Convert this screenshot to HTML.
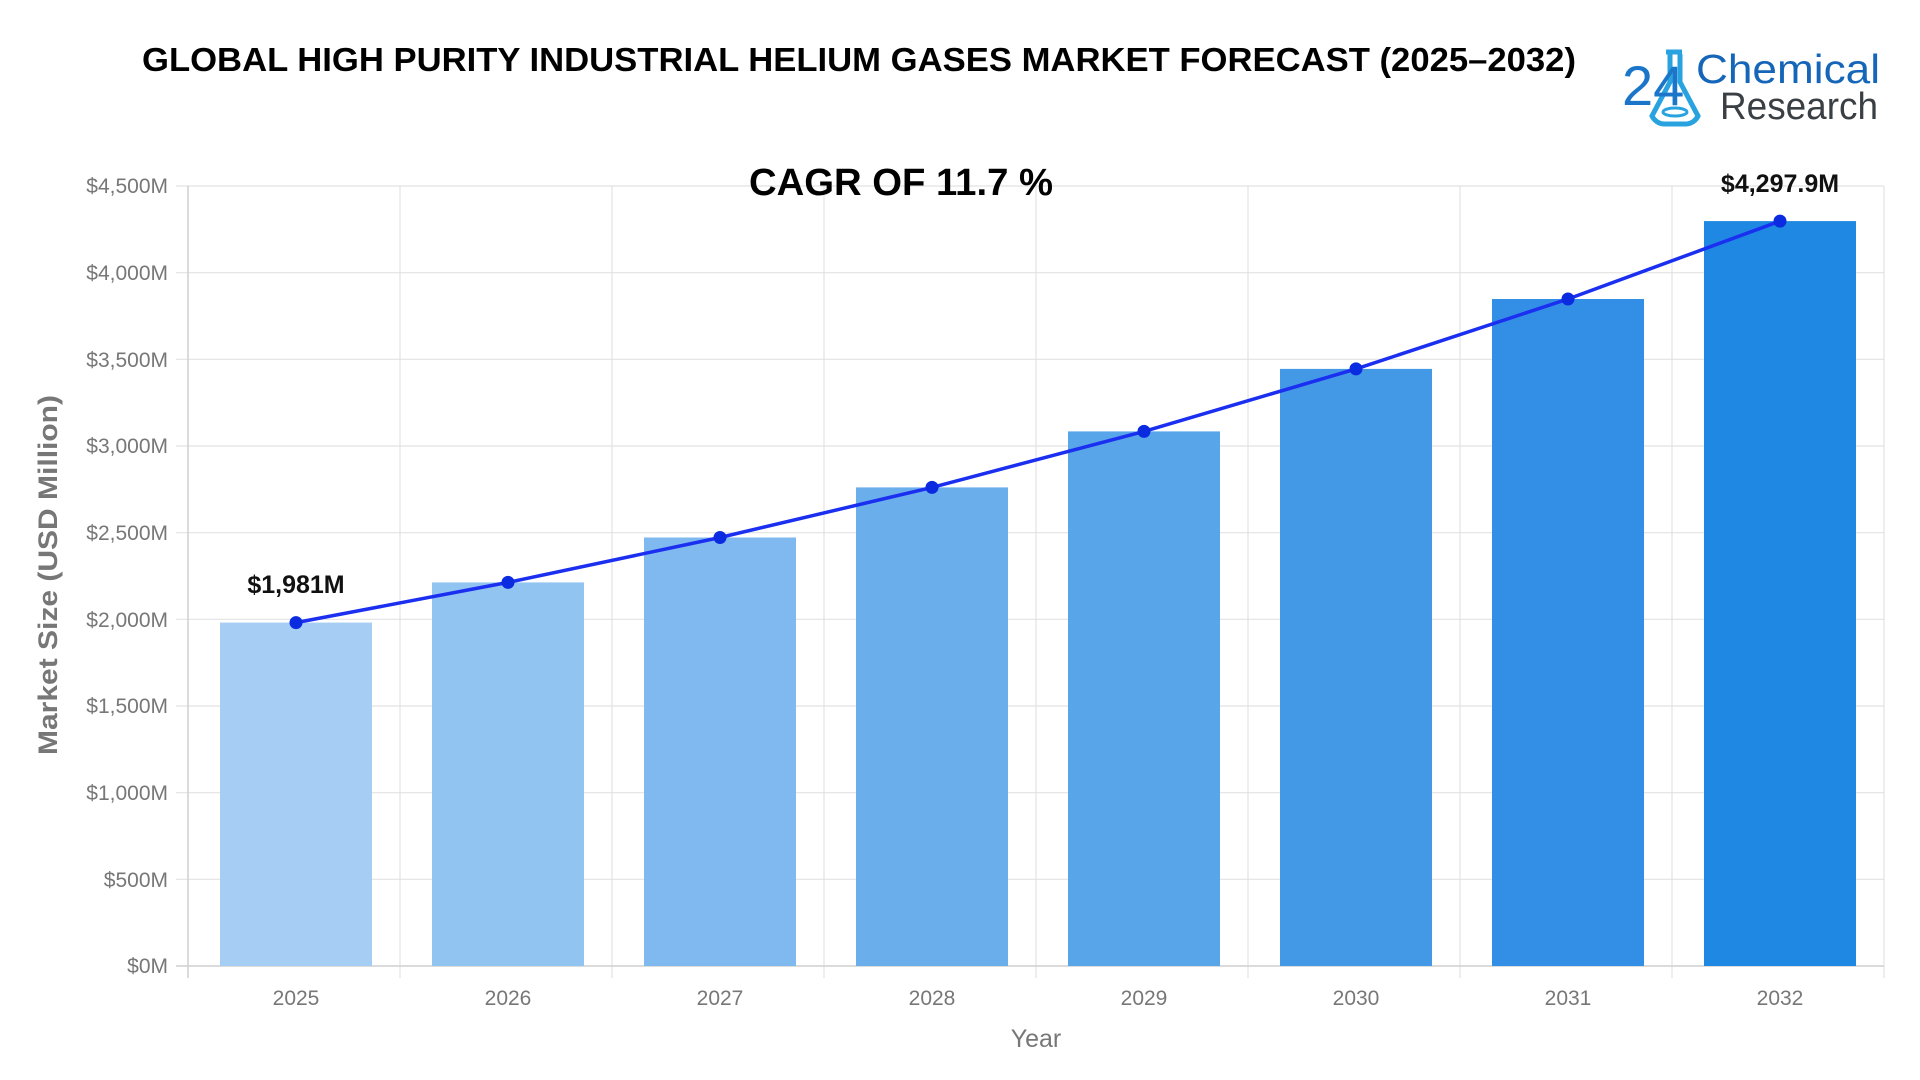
<!DOCTYPE html>
<html><head><meta charset="utf-8"><style>
html,body{margin:0;padding:0;background:#fff;width:1920px;height:1080px;overflow:hidden}
svg{display:block}
</style></head><body>
<svg width="1920" height="1080" viewBox="0 0 1920 1080" xmlns="http://www.w3.org/2000/svg" font-family="Liberation Sans, sans-serif">
<text x="142" y="71" textLength="1434" lengthAdjust="spacingAndGlyphs" font-size="33" font-weight="bold" fill="#000">GLOBAL HIGH PURITY INDUSTRIAL HELIUM GASES MARKET FORECAST (2025–2032)</text>
<!-- logo -->
<g>
<path d="M1666 52 h16 M1670 54 v28 l-18 34 a14 14 0 0 0 12 8 h22 a14 14 0 0 0 12 -8 l-18 -34 v-28" fill="none" stroke="#29a3e0" stroke-width="5"/>
<ellipse cx="1675" cy="112" rx="12" ry="4" fill="none" stroke="#29a3e0" stroke-width="3"/>
<text x="1622" y="105" font-size="56" fill="#1b75c9">24</text>
<text x="1696" y="83" font-size="41" fill="#1565b8" textLength="184" lengthAdjust="spacingAndGlyphs">Chemical</text>
<text x="1720" y="119" font-size="38" fill="#3a3f44" textLength="158" lengthAdjust="spacingAndGlyphs">Research</text>
</g>
<!-- grid -->
<g stroke="#e2e2e2" stroke-width="1.2">
<line x1="176" y1="186" x2="1884" y2="186"/><line x1="176" y1="272.7" x2="1884" y2="272.7"/>
<line x1="176" y1="359.3" x2="1884" y2="359.3"/><line x1="176" y1="446" x2="1884" y2="446"/>
<line x1="176" y1="532.7" x2="1884" y2="532.7"/><line x1="176" y1="619.3" x2="1884" y2="619.3"/>
<line x1="176" y1="706" x2="1884" y2="706"/><line x1="176" y1="792.7" x2="1884" y2="792.7"/>
<line x1="176" y1="879.3" x2="1884" y2="879.3"/>
<line x1="400" y1="186" x2="400" y2="978"/><line x1="612" y1="186" x2="612" y2="978"/>
<line x1="824" y1="186" x2="824" y2="978"/><line x1="1036" y1="186" x2="1036" y2="978"/>
<line x1="1248" y1="186" x2="1248" y2="978"/><line x1="1460" y1="186" x2="1460" y2="978"/>
<line x1="1672" y1="186" x2="1672" y2="978"/><line x1="1884" y1="186" x2="1884" y2="978"/>
</g>
<g stroke="#cfcfcf" stroke-width="1.5"><line x1="188" y1="186" x2="188" y2="978"/><line x1="176" y1="966" x2="1884" y2="966"/></g>
<g font-size="21" fill="#777" text-anchor="end">
<text x="168" y="193">$4,500M</text><text x="168" y="280">$4,000M</text><text x="168" y="367">$3,500M</text>
<text x="168" y="453">$3,000M</text><text x="168" y="540">$2,500M</text><text x="168" y="627">$2,000M</text>
<text x="168" y="713">$1,500M</text><text x="168" y="800">$1,000M</text><text x="168" y="887">$500M</text><text x="168" y="973">$0M</text>
</g>
<!-- bars -->
<g>
<rect x="220" y="622.6" width="152" height="343.4" fill="#a6cdf4"/>
<rect x="432" y="582.4" width="152" height="383.6" fill="#92c4f2"/>
<rect x="644" y="537.5" width="152" height="428.5" fill="#7fb9ef"/>
<rect x="856" y="487.4" width="152" height="478.6" fill="#6aaeec"/>
<rect x="1068" y="431.4" width="152" height="534.6" fill="#58a5ea"/>
<rect x="1280" y="368.9" width="152" height="597.1" fill="#4499e7"/>
<rect x="1492" y="299" width="152" height="667" fill="#338fe5"/>
<rect x="1704" y="221.1" width="152" height="744.9" fill="#1e88e2"/>
</g>
<polyline points="296,622.6 508,582.4 720,537.5 932,487.4 1144,431.4 1356,368.9 1568,299 1780,221.1" fill="none" stroke="#1a2ff0" stroke-width="3.5"/>
<g fill="#0b2be0">
<circle cx="296" cy="622.6" r="6.5"/><circle cx="508" cy="582.4" r="6.5"/><circle cx="720" cy="537.5" r="6.5"/>
<circle cx="932" cy="487.4" r="6.5"/><circle cx="1144" cy="431.4" r="6.5"/><circle cx="1356" cy="368.9" r="6.5"/>
<circle cx="1568" cy="299" r="6.5"/><circle cx="1780" cy="221.1" r="6.5"/>
</g>
<g font-size="21" fill="#777" text-anchor="middle">
<text x="296" y="1005">2025</text><text x="508" y="1005">2026</text><text x="720" y="1005">2027</text><text x="932" y="1005">2028</text>
<text x="1144" y="1005">2029</text><text x="1356" y="1005">2030</text><text x="1568" y="1005">2031</text><text x="1780" y="1005">2032</text>
</g>
<text x="1036" y="1047" font-size="25" fill="#777" text-anchor="middle">Year</text>
<text transform="translate(57,575) rotate(-90)" font-size="27" font-weight="bold" fill="#777" text-anchor="middle" textLength="360" lengthAdjust="spacingAndGlyphs">Market Size (USD Million)</text>
<text x="749" y="195" font-size="38" font-weight="bold" fill="#000" textLength="304" lengthAdjust="spacingAndGlyphs">CAGR OF 11.7  %</text>
<text x="296" y="593" font-size="25" font-weight="bold" fill="#111" text-anchor="middle">$1,981M</text>
<text x="1780" y="192" font-size="25" font-weight="bold" fill="#111" text-anchor="middle">$4,297.9M</text>
</svg>
</body></html>
